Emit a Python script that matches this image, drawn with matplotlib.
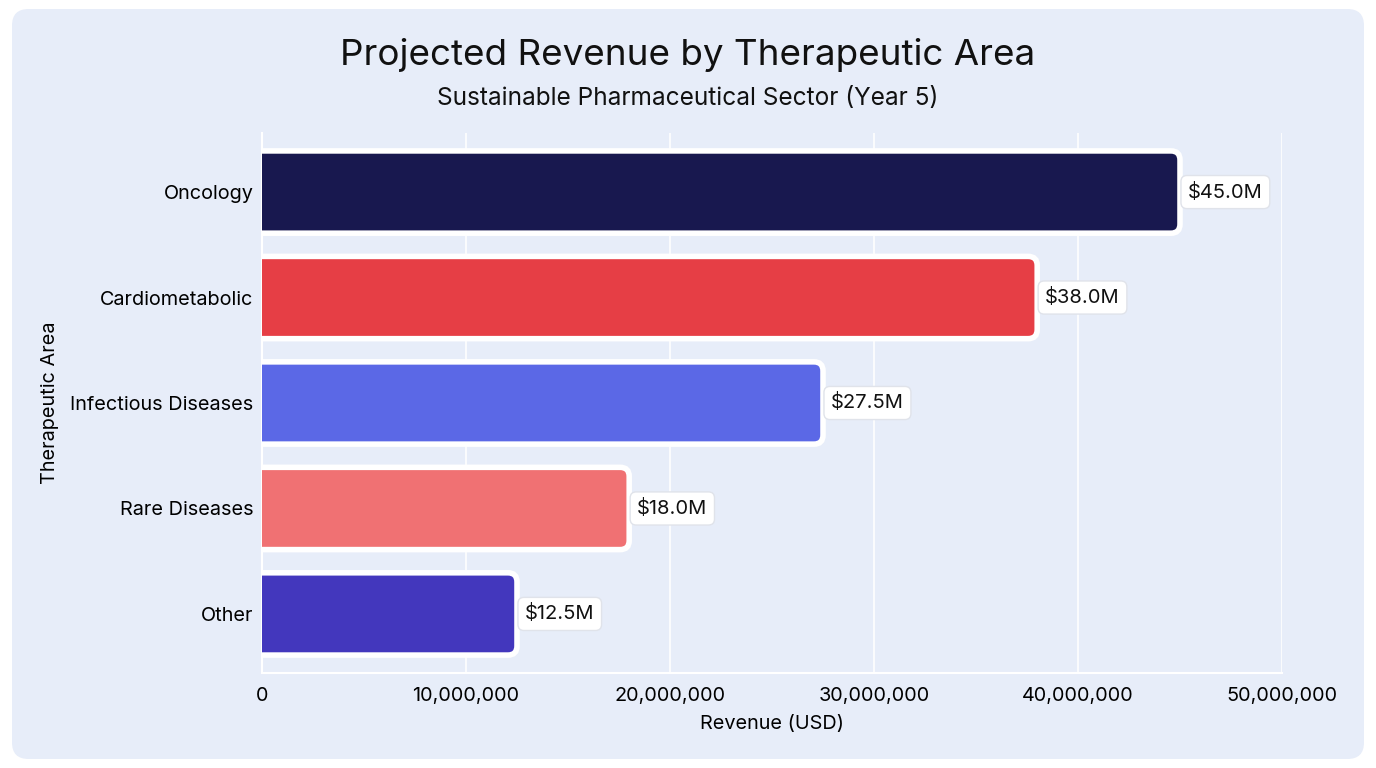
import matplotlib
matplotlib.use("Agg")
import matplotlib.pyplot as plt
from matplotlib.patches import FancyBboxPatch
from matplotlib.ticker import FuncFormatter

plt.rcParams['font.family'] = ['Inter', 'DejaVu Sans']

# Données
areas = ["Oncology", "Cardiometabolic", "Infectious Diseases", "Rare Diseases", "Other"]
revenue = [45000000, 38000000, 27500000, 18000000, 12500000]
bar_colors = ["#18184f", "#e63e45", "#5b68e6", "#f07173", "#4337bd"]
x_ticks = [0, 10000000, 20000000, 30000000, 40000000, 50000000]

W, H = 1376, 768
fig = plt.figure(figsize=(W / 100, H / 100), dpi=100)
fig.patch.set_facecolor("white")

# Panneau arrondi en fond
panel = FancyBboxPatch((12 / W, 9 / H), 1352 / W, 750 / H,
                       boxstyle="round,pad=0,rounding_size=0.012",
                       mutation_aspect=W / H,
                       transform=fig.transFigure, facecolor="#e7edf9",
                       edgecolor="none", zorder=-10)
fig.patches.append(panel)

ax = fig.add_axes([262 / W, 1 - 673 / H, 1020 / W, 540 / H])
ax.set_facecolor("none")
ax.set_zorder(1)

y_pos = list(range(len(areas)))
bars = ax.barh(y_pos, revenue, height=0.78, color="none", edgecolor="none")

ax.set_xlim(0, 50000000)
ax.set_ylim(len(areas) - 1 + 0.56, -0.56)

# rayon en unités x, aspect pour garder des coins ronds
x_per_px = 50000000 / 1020
y_per_px = (len(areas) - 1 + 1.12) / 540
aspect = y_per_px / x_per_px
radius = 9 * x_per_px

for bar, c in zip(bars, bar_colors):
    y0 = bar.get_y()
    h = bar.get_height()
    w = bar.get_width()
    p = FancyBboxPatch((-radius * 2, y0), w + radius * 2, h,
                       boxstyle=f"round,pad=0,rounding_size={radius}",
                       mutation_aspect=aspect, facecolor=c,
                       edgecolor="white", linewidth=4, zorder=3)
    ax.add_patch(p)
    ax.text(w + 8 * x_per_px, y0 + h / 2, f"${w / 1e6:.1f}M",
            va="center", ha="left", fontsize=14.5, color="#111111", zorder=5,
            bbox=dict(boxstyle="round,pad=0.35,rounding_size=0.3",
                      facecolor="white", edgecolor="#e0e3ea", linewidth=1))

ax.set_yticks(y_pos)
ax.set_yticklabels(areas, fontsize=14.3)
ax.set_xticks(x_ticks)
ax.xaxis.set_major_formatter(FuncFormatter(lambda v, _: f"{int(v):,}"))
ax.tick_params(axis="x", labelsize=14.3, length=0, pad=10)
ax.tick_params(axis="y", length=0, pad=6)
ax.grid(axis="x", color="white", linewidth=1.2, zorder=0)
ax.set_axisbelow(True)
for s in ["top", "right"]:
    ax.spines[s].set_visible(False)
for s in ["left", "bottom"]:
    ax.spines[s].set_color("white")
    ax.spines[s].set_linewidth(1.5)

ax.set_xlabel("Revenue (USD)", fontsize=14.3, labelpad=7)
ax.set_ylabel("Therapeutic Area", fontsize=14.3, labelpad=8)

fig.text(0.5, 1 - 55 / H, "Projected Revenue by Therapeutic Area",
         ha="center", va="center", fontsize=26.5, color="#111111")
fig.text(0.5, 1 - 98 / H, "Sustainable Pharmaceutical Sector (Year 5)",
         ha="center", va="center", fontsize=17.6, color="#111111")

fig.savefig("out.png", dpi=100, facecolor=fig.get_facecolor())
